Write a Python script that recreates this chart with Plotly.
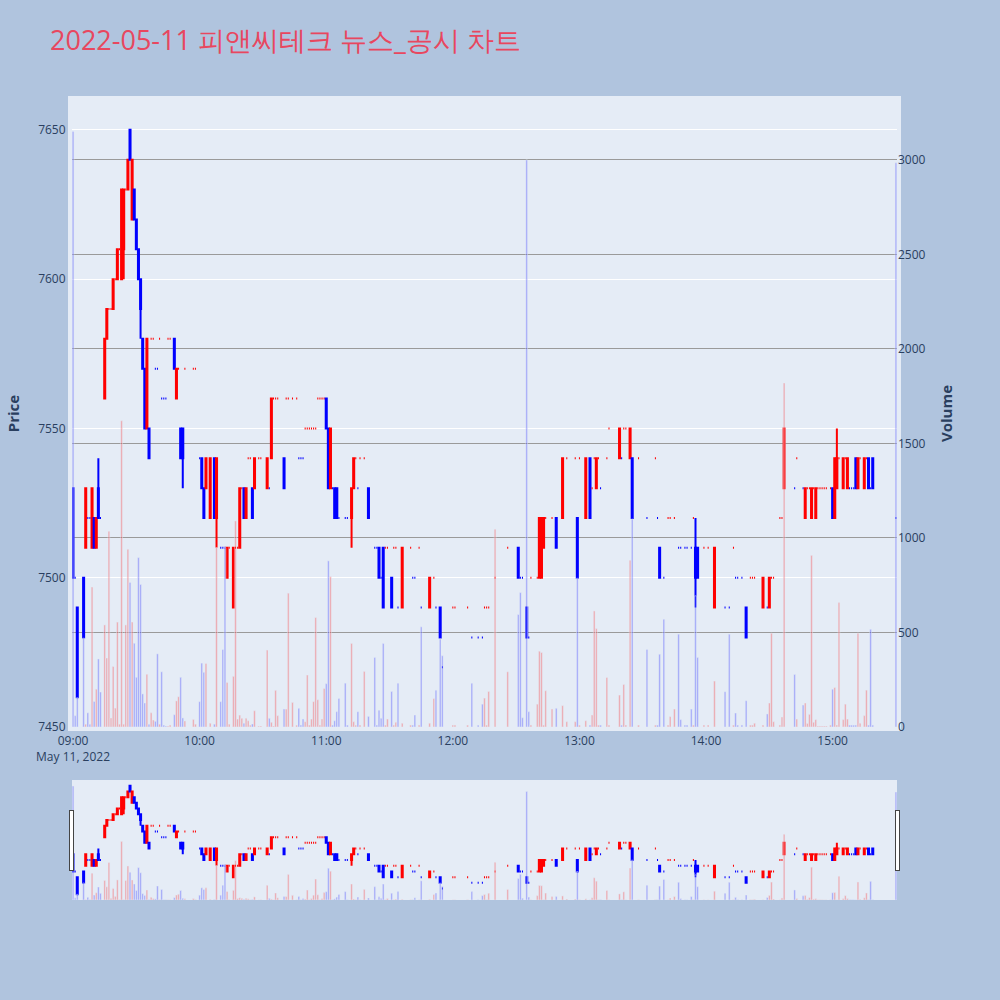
import plotly.graph_objects as go
from plotly.subplots import make_subplots

day = '2022-05-11'

# minute candles (only the minutes that traded)
times = [
    # 09h
    '09:00', '09:01', '09:02', '09:05', '09:06', '09:07', '09:08', '09:09', '09:10', '09:11',
    '09:12', '09:13', '09:15', '09:16', '09:17', '09:18', '09:19', '09:20', '09:21', '09:22',
    '09:23', '09:24', '09:25', '09:26', '09:27', '09:28', '09:29', '09:30', '09:31', '09:32',
    '09:33', '09:34', '09:35', '09:36', '09:37', '09:38', '09:39', '09:40', '09:41', '09:42',
    '09:43', '09:44', '09:45', '09:46', '09:48', '09:49', '09:50', '09:51', '09:52', '09:53',
    '09:57', '09:58',
    # 10h
    '10:00', '10:01', '10:02', '10:03', '10:05', '10:07', '10:08', '10:10', '10:11', '10:12',
    '10:13', '10:14', '10:16', '10:17', '10:18', '10:19', '10:20', '10:21', '10:22', '10:23',
    '10:24', '10:25', '10:26', '10:28', '10:29', '10:32', '10:33', '10:34', '10:35', '10:36',
    '10:37', '10:40', '10:41', '10:42', '10:44', '10:46', '10:47', '10:48', '10:49', '10:50',
    '10:51', '10:52', '10:53', '10:54', '10:55', '10:56', '10:57', '10:58', '10:59',
    # 11h
    '11:00', '11:01', '11:02', '11:03', '11:04', '11:05', '11:06', '11:09', '11:10', '11:12',
    '11:13', '11:14', '11:15', '11:16', '11:18', '11:20', '11:23', '11:24', '11:25', '11:26',
    '11:27', '11:28', '11:29', '11:31', '11:32', '11:33', '11:34', '11:36', '11:40', '11:41',
    '11:42', '11:44', '11:45', '11:49', '11:51', '11:52', '11:54', '11:55',
    # 12h
    '12:00', '12:01', '12:07', '12:09', '12:12', '12:14', '12:15', '12:16', '12:17', '12:20',
    '12:26', '12:31', '12:32', '12:33', '12:35', '12:36', '12:37', '12:40', '12:41', '12:42',
    '12:43', '12:44', '12:47', '12:49', '12:52', '12:54', '12:58', '12:59',
    # 13h
    '13:00', '13:03', '13:05', '13:06', '13:07', '13:08', '13:09', '13:10', '13:13', '13:14',
    '13:19', '13:20', '13:21', '13:22', '13:24', '13:25', '13:28', '13:32', '13:36', '13:37',
    '13:38', '13:40', '13:42', '13:43', '13:45', '13:47', '13:48', '13:50', '13:51', '13:53',
    '13:54', '13:55', '13:56', '13:59',
    # 14h
    '14:01', '14:04', '14:09', '14:11', '14:13', '14:14', '14:15', '14:17', '14:19', '14:21',
    '14:22', '14:23', '14:27', '14:29', '14:30', '14:31', '14:32', '14:35', '14:36', '14:37',
    '14:42', '14:43', '14:46', '14:47', '14:48', '14:49', '14:50', '14:51', '14:52', '14:53',
    '14:54', '14:55', '14:56', '14:57', '14:59',
    # 15h
    '15:00', '15:01', '15:02', '15:03', '15:05', '15:06', '15:07', '15:08', '15:09', '15:10',
    '15:11', '15:12', '15:13', '15:15', '15:16', '15:17', '15:18', '15:19', '15:30',
]

opens = [
    7530, 7500, 7490, 7500, 7510, 7520, 7520, 7510, 7520, 7510, 7530, 7520, 7560, 7580, 7590, 7590,
    7590, 7600, 7600, 7610, 7600, 7610, 7630, 7630, 7650, 7620, 7630, 7620, 7610, 7600, 7580, 7570,
    7550, 7550, 7580, 7580, 7570, 7570, 7580, 7560, 7560, 7560, 7580, 7580, 7580, 7560, 7570, 7550,
    7550, 7570, 7570, 7570,
    7540, 7540, 7530, 7530, 7520, 7540, 7520, 7510, 7510, 7510, 7500, 7510, 7490, 7510, 7510, 7510,
    7530, 7530, 7520, 7540, 7540, 7530, 7530, 7540, 7540, 7530, 7530, 7540, 7560, 7560, 7560, 7540,
    7560, 7560, 7560, 7560, 7540, 7540, 7540, 7550, 7550, 7550, 7550, 7550, 7550, 7560, 7560, 7560,
    7560,
    7560, 7550, 7530, 7530, 7530, 7530, 7520, 7520, 7520, 7520, 7530, 7540, 7530, 7540, 7540, 7530,
    7510, 7510, 7510, 7500, 7510, 7510, 7510, 7500, 7510, 7510, 7490, 7490, 7510, 7500, 7500, 7510,
    7490, 7490, 7500, 7490, 7490, 7470,
    7490, 7490, 7490, 7480, 7480, 7480, 7490, 7490, 7490, 7500, 7510, 7510, 7500, 7500, 7490, 7480,
    7500, 7500, 7500, 7500, 7510, 7520, 7520, 7520, 7520, 7540, 7540, 7520,
    7540, 7520, 7540, 7530, 7540, 7530, 7540, 7530, 7540, 7550, 7540, 7540, 7550, 7550, 7540, 7540,
    7540, 7520, 7540, 7520, 7510, 7500, 7520, 7520, 7520, 7510, 7510, 7510, 7510, 7510, 7520, 7510,
    7510, 7510,
    7510, 7490, 7490, 7490, 7510, 7500, 7500, 7500, 7490, 7500, 7500, 7500, 7490, 7490, 7490, 7500,
    7500, 7520, 7520, 7530, 7530, 7540, 7530, 7520, 7530, 7530, 7520, 7530, 7520, 7530, 7530, 7530,
    7530, 7530, 7530,
    7530, 7520, 7530, 7540, 7530, 7540, 7530, 7530, 7530, 7530, 7540, 7530, 7540, 7530, 7540, 7540,
    7530, 7540, 7520,
]

highs = [
    7530, 7500, 7490, 7500, 7530, 7520, 7520, 7530, 7520, 7520, 7540, 7520, 7580, 7590, 7590, 7590,
    7600, 7600, 7610, 7610, 7630, 7630, 7630, 7640, 7650, 7640, 7630, 7620, 7610, 7600, 7580, 7570,
    7580, 7550, 7580, 7580, 7570, 7570, 7580, 7560, 7560, 7560, 7580, 7580, 7580, 7570, 7570, 7550,
    7550, 7570, 7570, 7570,
    7540, 7540, 7530, 7540, 7540, 7540, 7540, 7510, 7510, 7510, 7510, 7510, 7510, 7510, 7510, 7530,
    7530, 7530, 7530, 7540, 7540, 7530, 7540, 7540, 7540, 7540, 7530, 7560, 7560, 7560, 7560, 7540,
    7560, 7560, 7560, 7560, 7540, 7540, 7540, 7550, 7550, 7550, 7550, 7550, 7550, 7560, 7560, 7560,
    7560,
    7560, 7550, 7550, 7530, 7530, 7530, 7520, 7520, 7520, 7530, 7540, 7540, 7530, 7540, 7540, 7530,
    7510, 7510, 7510, 7500, 7510, 7510, 7510, 7500, 7510, 7510, 7490, 7510, 7510, 7500, 7500, 7510,
    7490, 7500, 7500, 7490, 7490, 7470,
    7490, 7490, 7490, 7480, 7480, 7480, 7490, 7490, 7490, 7500, 7510, 7510, 7500, 7500, 7490, 7480,
    7500, 7500, 7520, 7520, 7520, 7520, 7520, 7520, 7540, 7540, 7540, 7520,
    7540, 7540, 7540, 7530, 7540, 7540, 7540, 7530, 7540, 7550, 7550, 7540, 7550, 7550, 7550, 7540,
    7540, 7520, 7540, 7520, 7510, 7500, 7520, 7520, 7520, 7510, 7510, 7510, 7510, 7510, 7520, 7520,
    7510, 7510,
    7510, 7510, 7490, 7490, 7510, 7500, 7500, 7500, 7490, 7500, 7500, 7500, 7500, 7490, 7500, 7500,
    7500, 7520, 7520, 7550, 7530, 7540, 7530, 7530, 7530, 7530, 7530, 7530, 7530, 7530, 7530, 7530,
    7530, 7530, 7530,
    7530, 7540, 7550, 7540, 7540, 7540, 7540, 7530, 7530, 7530, 7540, 7540, 7540, 7540, 7540, 7540,
    7530, 7540, 7520,
]

lows = [
    7500, 7500, 7460, 7480, 7510, 7520, 7520, 7510, 7510, 7510, 7520, 7520, 7560, 7580, 7590, 7590,
    7590, 7600, 7600, 7610, 7600, 7600, 7630, 7630, 7640, 7620, 7620, 7610, 7600, 7580, 7570, 7550,
    7550, 7540, 7580, 7580, 7570, 7570, 7580, 7560, 7560, 7560, 7580, 7580, 7570, 7560, 7570, 7540,
    7530, 7570, 7570, 7570,
    7540, 7530, 7520, 7530, 7520, 7520, 7510, 7510, 7510, 7510, 7500, 7510, 7490, 7510, 7510, 7510,
    7530, 7520, 7520, 7540, 7540, 7520, 7530, 7540, 7540, 7530, 7530, 7540, 7560, 7560, 7560, 7530,
    7560, 7560, 7560, 7560, 7540, 7540, 7540, 7550, 7550, 7550, 7550, 7550, 7550, 7560, 7560, 7560,
    7560,
    7550, 7530, 7530, 7530, 7520, 7520, 7520, 7520, 7520, 7510, 7530, 7540, 7530, 7540, 7540, 7520,
    7510, 7510, 7500, 7500, 7490, 7510, 7510, 7490, 7510, 7510, 7490, 7490, 7510, 7500, 7500, 7510,
    7490, 7490, 7500, 7490, 7480, 7470,
    7490, 7490, 7490, 7480, 7480, 7480, 7490, 7490, 7490, 7500, 7510, 7500, 7500, 7500, 7480, 7480,
    7500, 7500, 7500, 7500, 7510, 7520, 7520, 7510, 7520, 7540, 7540, 7500,
    7540, 7520, 7520, 7530, 7540, 7530, 7540, 7530, 7540, 7550, 7540, 7540, 7550, 7550, 7540, 7520,
    7540, 7520, 7540, 7520, 7500, 7500, 7520, 7520, 7520, 7510, 7510, 7510, 7510, 7510, 7520, 7490,
    7500, 7510,
    7510, 7490, 7490, 7490, 7510, 7500, 7500, 7500, 7480, 7500, 7500, 7500, 7490, 7490, 7490, 7500,
    7500, 7520, 7520, 7530, 7530, 7540, 7530, 7520, 7530, 7530, 7520, 7530, 7520, 7530, 7530, 7530,
    7530, 7530, 7530,
    7520, 7520, 7530, 7540, 7530, 7540, 7530, 7530, 7530, 7530, 7530, 7530, 7540, 7530, 7540, 7530,
    7530, 7530, 7520,
]

closes = [
    7500, 7500, 7460, 7480, 7530, 7520, 7520, 7530, 7510, 7520, 7520, 7520, 7580, 7590, 7590, 7590,
    7600, 7600, 7610, 7610, 7630, 7630, 7630, 7640, 7640, 7640, 7620, 7610, 7600, 7590, 7570, 7550,
    7580, 7540, 7580, 7580, 7570, 7570, 7580, 7560, 7560, 7560, 7580, 7580, 7570, 7570, 7570, 7540,
    7540, 7570, 7570, 7570,
    7540, 7530, 7520, 7540, 7540, 7520, 7540, 7510, 7510, 7510, 7510, 7510, 7510, 7510, 7510, 7530,
    7530, 7520, 7530, 7540, 7540, 7520, 7540, 7540, 7540, 7540, 7530, 7560, 7560, 7560, 7560, 7530,
    7560, 7560, 7560, 7560, 7540, 7540, 7540, 7550, 7550, 7550, 7550, 7550, 7550, 7560, 7560, 7560,
    7560,
    7550, 7530, 7550, 7530, 7520, 7520, 7520, 7520, 7520, 7530, 7540, 7540, 7530, 7540, 7540, 7520,
    7510, 7510, 7500, 7500, 7490, 7510, 7510, 7490, 7510, 7510, 7490, 7510, 7510, 7500, 7500, 7510,
    7490, 7500, 7500, 7490, 7480, 7470,
    7490, 7490, 7490, 7480, 7480, 7480, 7490, 7490, 7490, 7500, 7510, 7500, 7500, 7500, 7480, 7480,
    7500, 7500, 7520, 7520, 7520, 7520, 7520, 7510, 7540, 7540, 7540, 7500,
    7540, 7540, 7520, 7530, 7540, 7540, 7540, 7530, 7540, 7550, 7550, 7540, 7550, 7550, 7550, 7520,
    7540, 7520, 7540, 7520, 7500, 7500, 7520, 7520, 7520, 7510, 7510, 7510, 7510, 7510, 7520, 7500,
    7500, 7510,
    7510, 7510, 7490, 7490, 7510, 7500, 7500, 7500, 7480, 7500, 7500, 7500, 7500, 7490, 7500, 7500,
    7500, 7520, 7520, 7550, 7530, 7540, 7530, 7530, 7530, 7530, 7530, 7530, 7530, 7530, 7530, 7530,
    7530, 7530, 7530,
    7520, 7540, 7540, 7540, 7540, 7540, 7540, 7530, 7530, 7530, 7530, 7540, 7540, 7540, 7540, 7530,
    7530, 7530, 7520,
]

volumes = [
    3150, 60, 155, 470, 15, 75, 15, 740, 135, 200, 360, 185, 540, 365, 1035, 48,
    320, 100, 555, 15, 1620, 15, 540, 940, 765, 555, 443, 263, 896, 754, 175, 127,
    279, 15, 75, 37, 30, 387, 15, 292, 10, 5, 5, 10, 65, 138, 160, 263,
    48, 32, 40, 15,
    134, 338, 289, 336, 20, 15, 949, 134, 410, 949, 236, 15, 268, 1090, 42, 63,
    46, 20, 46, 33, 10, 16, 86, 5, 5, 407, 46, 25, 5, 194, 60, 95,
    95, 708, 130, 10, 99, 10, 42, 28, 275, 10, 42, 134, 579, 144, 10, 42,
    204,
    229, 879, 796, 10, 33, 81, 151, 232, 10, 442, 28, 10, 81, 10, 294, 56,
    368, 10, 88, 46, 442, 10, 42, 188, 10, 25, 232, 20, 10, 10, 63, 10,
    530, 20, 151, 194, 465, 377,
    10, 10, 10, 232, 10, 121, 153, 10, 188, 1046, 292, 595, 711, 49, 3000, 81,
    10, 121, 401, 394, 10, 192, 95, 99, 113, 28, 28, 787,
    10, 33, 10, 63, 614, 521, 10, 10, 262, 10, 169, 10, 225, 10, 882, 1100,
    10, 410, 10, 10, 385, 570, 10, 55, 95, 491, 39, 10, 10, 95, 10, 694,
    368, 10,
    10, 243, 187, 491, 10, 74, 10, 10, 139, 10, 10, 20, 10, 69, 127, 496,
    28, 10, 53, 1820, 278, 42, 116, 127, 19, 67, 908, 25, 39, 5, 5, 5,
    5, 5, 10,
    200, 209, 10, 658, 39, 121, 42, 10, 10, 10, 10, 496, 20, 60, 195, 10,
    517, 10, 2985,
]

n = len(times)
assert all(len(a) == n for a in (opens, highs, lows, closes, volumes))

x = [f'{day} {t}:00' for t in times]

# volume bar colour follows candle direction (doji -> compare with previous close)
vol_colors = []
up = True
prev = None
for o, c in zip(opens, closes):
    if o != c:
        up = c > o
    elif prev is not None and c != prev:
        up = c > prev
    vol_colors.append('rgba(255,0,0,0.3)' if up else 'rgba(0,0,255,0.3)')
    prev = c

fig = make_subplots(specs=[[{'secondary_y': True}]])

fig.add_trace(go.Candlestick(
    x=x, open=opens, high=highs, low=lows, close=closes, name='Price',
    increasing=dict(line=dict(color='red'), fillcolor='red'),
    decreasing=dict(line=dict(color='blue'), fillcolor='blue'),
), secondary_y=False)

fig.add_trace(go.Bar(x=x, y=volumes, name='Volume', marker_color=vol_colors),
              secondary_y=True)

fig.update_layout(
    title=dict(text='2022-05-11 피앤씨테크 뉴스_공시 차트',
               font=dict(size=27, color='#e8475f')),
    width=1000, height=1000,
    paper_bgcolor='lightsteelblue',
    plot_bgcolor='#E5ECF6',
    margin=dict(l=72, r=103, t=100, b=100),
    showlegend=False,
)

fig.update_xaxes(domain=[0, 1], showgrid=False,
                 showline=True, linewidth=4, linecolor='#E5ECF6', mirror=True,
                 rangeslider=dict(visible=True, bgcolor='#E5ECF6', thickness=0.15))
fig.update_yaxes(title=dict(text='<b>Price</b>', font_size=15, standoff=16),
                 range=[7450, 7660],
                 showline=True, linewidth=4, linecolor='#E5ECF6', mirror=True,
                 secondary_y=False)
fig.update_yaxes(title=dict(text='<b>Volume</b>', font_size=15, standoff=16),
                 range=[0, 3317],
                 showgrid=True, gridcolor='#9a9a9a', gridwidth=1, zeroline=False,
                 secondary_y=True)

fig.write_html('out.html', config={'displayModeBar': False},
               post_script="document.body.style.margin='0px';")
